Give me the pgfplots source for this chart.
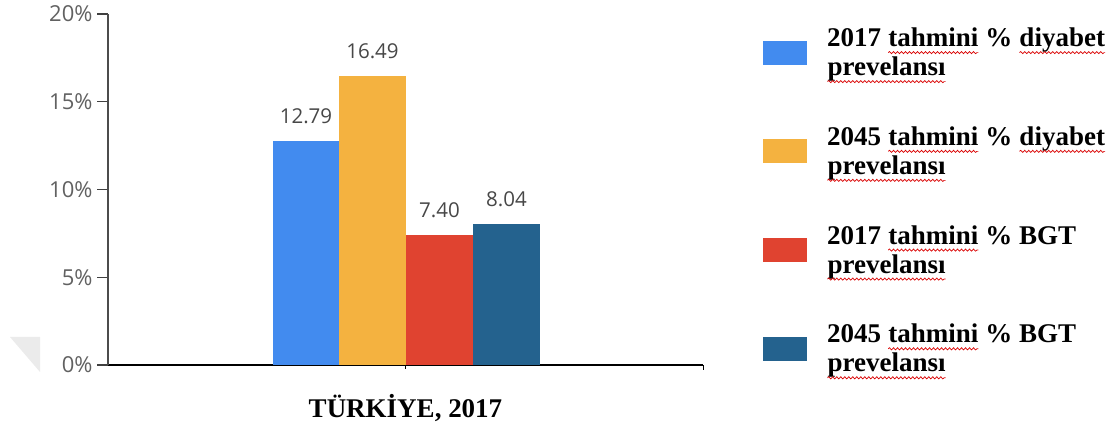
\documentclass[border=0pt]{standalone}
\usepackage{pgfplots}
\pgfplotsset{compat=1.18}
\usepackage{fontspec}
\setmainfont{Liberation Serif}
\newfontfamily\uifont{Open Sans}
\usetikzlibrary{decorations.pathmorphing}
\definecolor{cBlue}{RGB}{66,139,239}
\definecolor{cOrange}{RGB}{244,178,64}
\definecolor{cRed}{RGB}{224,67,48}
\definecolor{cDark}{RGB}{36,98,142}
\newcommand\sq[1]{\tikz[baseline=(w.base)]{\node[inner sep=0pt,outer sep=0pt](w){#1};\draw[red!85!black,line width=0.7pt,decorate,decoration={snake,amplitude=1.1pt,segment length=4pt}]([yshift=-6pt]w.base west)--([yshift=-6pt]w.base east);}}
\begin{document}
\begin{tikzpicture}[x=1pt,y=1pt]
\useasboundingbox (0,0) rectangle (1109,427);
\fill[black!8] (10,90) -- (40,90) -- (40,55) -- cycle;
\begin{axis}[
  at={(108pt,62pt)}, anchor=south west, scale only axis,
  width=595pt, height=351pt,
  xmin=108, xmax=703, ymin=0, ymax=20,
  axis lines*=left,
  x axis line style={black, line width=1.4pt},
  y axis line style={black!70, line width=1.4pt},
  ytick={0,5,10,15,20}, yticklabels={0\%,5\%,10\%,15\%,20\%},
  xtick=\empty,
  tick align=outside, major tick length=11pt,
  ytick style={black!75, line width=1.4pt},
  yticklabel style={font=\uifont\fontsize{22}{22}\selectfont, text=black!62, xshift=-1pt},
  ybar, bar width=67, bar shift=0pt,
  nodes near coords={\pgfmathprintnumber[fixed,fixed zerofill,precision=2,assume math mode=true]{\pgfplotspointmeta}},
  nodes near coords style={font=\uifont\fontsize{20.5}{20.5}\selectfont, text=black!72, anchor=south, inner sep=0pt, yshift=17pt},
  legend image code/.code={\fill[#1,draw=none] (0pt,-12pt) rectangle (44pt,12pt);},
  legend style={draw=none, fill=none, at={(axis description cs:1.1008,0.961)}, anchor=north west,
    inner sep=0pt, row sep=49.5pt, column sep=20pt,
    font=\fontsize{27}{29}\selectfont\bfseries,
    nodes={inner sep=0pt, align=left}},
  legend cell align=left,
  clip=false,
]
\addplot[fill=cBlue, draw=none] coordinates {(306,12.79)};
\addlegendentry{2017 \sq{tahmini} \% \sq{diyabet}\\\sq{prevelansı}}
\addplot[fill=cOrange, draw=none] coordinates {(372.5,16.49)};
\addlegendentry{2045 \sq{tahmini} \% \sq{diyabet}\\\sq{prevelansı}}
\addplot[fill=cRed, draw=none] coordinates {(439.5,7.40)};
\addlegendentry{2017 \sq{tahmini} \% BGT\\\sq{prevelansı}}
\addplot[fill=cDark, draw=none] coordinates {(506.5,8.04)};
\addlegendentry{2045 \sq{tahmini} \% BGT\\\sq{prevelansı}}
\draw[black, line width=1pt] (axis cs:405.5,0) -- ++(0pt,-4pt);
\draw[black, line width=1pt] (axis cs:703,0) -- ++(0pt,-5pt);
\node[font=\fontsize{27}{27}\selectfont\bfseries] at (axis cs:405.5,0) [yshift=-43pt] {TÜRKİYE, 2017};
\end{axis}
\end{tikzpicture}
\end{document}
